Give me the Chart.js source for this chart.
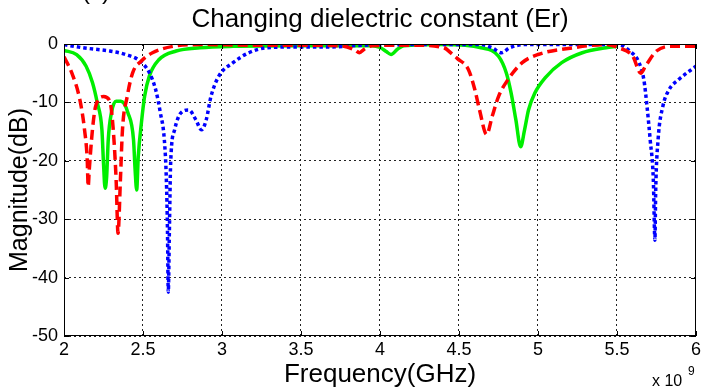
<!DOCTYPE html>
<html>
<head>
<meta charset="utf-8">
<title>Changing dielectric constant (Er)</title>
<script src="https://cdn.jsdelivr.net/npm/chart.js@4.4.1/dist/chart.umd.min.js"></script>
<style>
    html, body { margin: 0; padding: 0; background: #fff; }
    canvas { display: block; }
</style>
</head>
<body>
<canvas id="myChart" width="704" height="388"></canvas>
<script>
// données (fréquence en GHz, amplitude en dB)
const redFreq = [2.0, 2.05, 2.10, 2.13, 2.147, 2.153, 2.16, 2.18, 2.20, 2.25, 2.29, 2.31, 2.33, 2.342, 2.357, 2.37, 2.40, 2.435, 2.49, 2.56, 2.69, 2.86, 3.2, 3.5, 3.75, 3.84, 3.87, 3.90, 3.95, 4.2, 4.40, 4.46, 4.49, 4.56, 4.60, 4.63, 4.675, 4.71, 4.75, 4.81, 4.90, 5.0, 5.22, 5.43, 5.51, 5.60, 5.65, 5.68, 5.75, 5.85, 6.0];
const redMag = [-2.2, -5, -9.5, -14.7, -19.8, -24.4, -21.5, -14.7, -10.7, -9.0, -9.8, -14.1, -23.3, -32.4, -23.3, -14.7, -9.0, -4.9, -2.9, -1.5, -0.4, -0.1, -0.2, -0.2, -0.3, -1.0, -1.5, -0.9, -0.3, -0.2, -0.6, -1.8, -2.5, -4.4, -7.8, -11.3, -15.5, -12.4, -9.0, -6.1, -3.2, -1.8, -0.65, -0.1, -0.65, -2.1, -5.0, -3.8, -1.2, -0.4, -0.4];

const greenFreq = [2.0, 2.08, 2.14, 2.18, 2.21, 2.24, 2.25, 2.26, 2.27, 2.28, 2.30, 2.33, 2.36, 2.405, 2.44, 2.45, 2.46, 2.47, 2.49, 2.51, 2.54, 2.60, 2.71, 2.86, 3.07, 3.5, 3.95, 4.0, 4.04, 4.07, 4.11, 4.15, 4.4, 4.64, 4.75, 4.80, 4.83, 4.86, 4.89, 4.915, 4.94, 4.98, 5.045, 5.15, 5.28, 5.43, 5.50];
const greenMag = [-1.1, -1.8, -3.8, -6.6, -10, -14.7, -20.4, -24.7, -22.7, -16.4, -11.8, -9.8, -9.8, -11.8, -16.4, -21.5, -25, -19.3, -13.5, -9, -5.5, -2.7, -1.2, -0.65, -0.4, -0.3, -0.3, -0.6, -1.3, -1.8, -0.9, -0.3, -0.1, -0.65, -2.1, -5, -8.4, -13, -17.6, -14.7, -11.3, -8.4, -5.8, -3.2, -1.5, -0.65, -0.4];

const blueFreq = [2.0, 2.12, 2.29, 2.39, 2.48, 2.54, 2.58, 2.61, 2.635, 2.648, 2.655, 2.66, 2.667, 2.675, 2.70, 2.74, 2.79, 2.835, 2.87, 2.90, 2.93, 2.98, 3.07, 3.17, 3.28, 3.49, 3.69, 3.9, 4.3, 4.64, 4.71, 4.77, 4.82, 4.92, 5.2, 5.51, 5.58, 5.64, 5.67, 5.69, 5.71, 5.73, 5.74, 5.745, 5.76, 5.79, 5.83, 5.89, 6.0];
const blueMag = [-0.1, -0.65, -1.2, -1.8, -2.9, -4.9, -7.8, -11.8, -16.4, -23.3, -32, -42.5, -32, -20.4, -14.7, -11.8, -11.3, -13, -14.7, -13, -9, -5.5, -3.2, -1.5, -0.65, -0.5, -0.5, -0.2, -0.1, -0.1, -0.65, -1.5, -0.65, -0.1, -0.1, -0.1, -1.2, -3.2, -6.1, -10.7, -16.4, -23.3, -33.6, -25, -16.4, -10.7, -7.8, -6.1, -3.8];

// ticks des axes
const xTicks = [2, 2.5, 3, 3.5, 4, 4.5, 5, 5.5, 6];
const yTicks = [-50, -40, -30, -20, -10, 0];

const fontName = "'Liberation Sans', Arial, sans-serif";

/**
 * mise en forme des données pour le graphique
 * @param {array} x
 * @param {array} y
 * @returns {array}
 */
function mef(x, y) {
    const li = [];
    for (let i = 0; i < x.length; i++) {
        li.push({x: x[i], y: y[i]});
    }
    return li;
}

// cadre noir + petits ticks vers l'intérieur (style matlab)
const framePlugin = {
    id: 'frame',
    afterDatasetsDraw(chart) {
        const {ctx, chartArea: a, scales} = chart;
        ctx.save();
        ctx.strokeStyle = '#000';
        ctx.lineWidth = 1;
        ctx.setLineDash([]);
        ctx.strokeRect(a.left + 0.5, a.top + 0.5, a.right - a.left - 1, a.bottom - a.top - 1);
        ctx.beginPath();
        xTicks.forEach(v => {
            const px = Math.round(scales.x.getPixelForValue(v)) + 0.5;
            ctx.moveTo(px, a.bottom); ctx.lineTo(px, a.bottom - 5);
            ctx.moveTo(px, a.top); ctx.lineTo(px, a.top + 5);
        });
        yTicks.forEach(v => {
            const py = Math.round(scales.y.getPixelForValue(v)) + 0.5;
            ctx.moveTo(a.left, py); ctx.lineTo(a.left + 5, py);
            ctx.moveTo(a.right, py); ctx.lineTo(a.right - 5, py);
        });
        ctx.stroke();
        ctx.restore();
    },
    afterDraw(chart) {
        const ctx = chart.ctx;
        ctx.save();
        ctx.fillStyle = '#000';
        ctx.textAlign = 'left';
        ctx.textBaseline = 'alphabetic';
        // exposant de l'axe x
        ctx.font = '16px ' + fontName;
        ctx.fillText('x 10', 652, 386);
        ctx.font = '12px ' + fontName;
        ctx.fillText('9', 688, 375);
        // étiquette de sous-figure coupée en haut
        ctx.font = '24px ' + fontName;
        ctx.fillText('(c)', 82, -1);
        ctx.restore();
    }
};

const canvas = document.getElementById('myChart');
const ctx = canvas.getContext('2d');

const myChart = new Chart(ctx, {
    type: 'line',
    data: {
        datasets: [{
            data: mef(redFreq, redMag),
            borderColor: '#ff0000',
            borderWidth: 3.5,
            borderDash: [10, 5],
            pointRadius: 0,
            cubicInterpolationMode: 'monotone'
        }, {
            data: mef(blueFreq, blueMag),
            borderColor: '#0000ff',
            borderWidth: 3.5,
            borderDash: [3.5, 3],
            pointRadius: 0,
            cubicInterpolationMode: 'monotone'
        }, {
            data: mef(greenFreq, greenMag),
            borderColor: '#00ee00',
            borderWidth: 3.5,
            pointRadius: 0,
            cubicInterpolationMode: 'monotone'
        }]
    },
    options: {
        responsive: false,
        animation: false,
        devicePixelRatio: 1,
        layout: {padding: {left: 0, right: 6, top: 0, bottom: 0}},
        plugins: {
            legend: {display: false},
            tooltip: {enabled: false},
            title: {
                display: true,
                fullSize: false,
                text: 'Changing dielectric constant (Er)',
                color: '#000',
                font: {family: fontName, size: 26, weight: 'normal', lineHeight: 1.2},
                padding: {top: 4, bottom: 8.8}
            }
        },
        scales: {
            x: {
                type: 'linear',
                min: 2,
                max: 6,
                afterBuildTicks: (scale) => { scale.ticks = xTicks.map(v => ({value: v})); },
                afterFit: (scale) => { scale.height = 52; },
                ticks: {
                    color: '#000',
                    font: {family: fontName, size: 18},
                    padding: 3,
                    maxRotation: 0,
                    callback: (value) => String(value)
                },
                grid: {color: '#222', lineWidth: 1, drawTicks: false},
                border: {display: false, dash: [2, 3]},
                title: {
                    display: true,
                    text: 'Frequency(GHz)',
                    color: '#000',
                    font: {family: fontName, size: 26, lineHeight: 1},
                    padding: {top: 0, bottom: 0}
                }
            },
            y: {
                type: 'linear',
                min: -50,
                max: 0,
                afterBuildTicks: (scale) => { scale.ticks = yTicks.map(v => ({value: v})); },
                afterFit: (scale) => { scale.width = 64; },
                ticks: {
                    color: '#000',
                    font: {family: fontName, size: 18},
                    padding: 6,
                    callback: (value) => String(value)
                },
                grid: {color: '#222', lineWidth: 1, drawTicks: false},
                border: {display: false, dash: [2, 3]},
                title: {
                    display: true,
                    text: 'Magnitude(dB)',
                    color: '#000',
                    font: {family: fontName, size: 25, lineHeight: 1.2},
                    padding: {top: 5, bottom: 0}
                }
            }
        }
    },
    plugins: [framePlugin]
});
</script>
</body>
</html>
